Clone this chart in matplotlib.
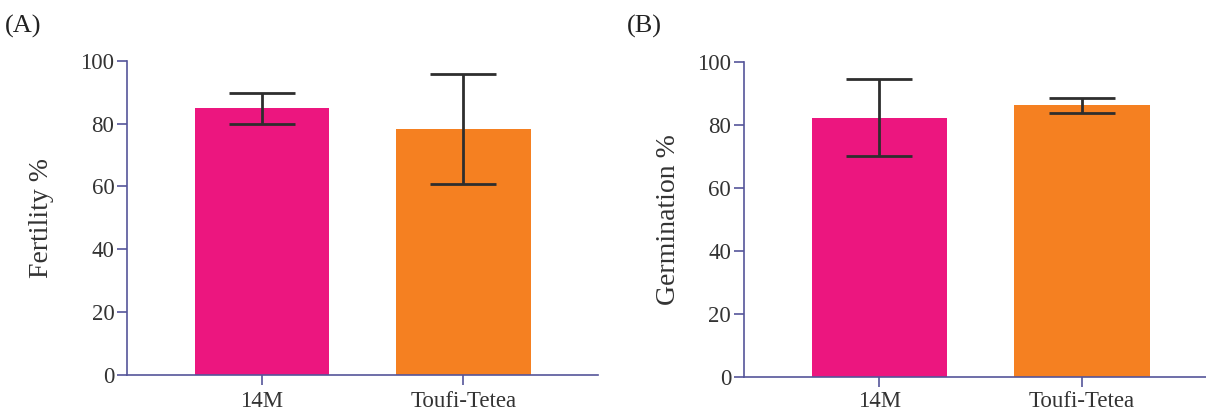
import matplotlib
matplotlib.use("Agg")
import matplotlib.pyplot as plt

plt.rcParams["font.family"] = ["Liberation Serif", "DejaVu Serif"]

categories = ["14M", "Toufi-Tetea"]
fertility = [85.0, 78.2]
fertility_lo = [80.0, 60.7]
fertility_hi = [89.9, 95.9]
germination = [82.3, 86.3]
germination_lo = [70.2, 83.9]
germination_hi = [94.7, 88.7]
yticks = [0, 20, 40, 60, 80, 100]

bar_colors = ["#EC167F", "#F58021"]
axis_color = "#55559a"
err_color = "#2e2e2e"
text_color = "#333333"

fig = plt.figure(figsize=(12.06, 4.12), dpi=100)
ax_a = fig.add_axes([0.1051, 0.0905, 0.3904, 0.7614])
ax_b = fig.add_axes([0.6167, 0.0850, 0.3833, 0.7646])


def draw_panel(ax, vals, lo, hi, ylabel, xlim, labelpad, xpad):
    x = range(len(categories))
    ax.bar(x, vals, width=0.668, color=bar_colors, zorder=2)
    yerr = [[v - l for v, l in zip(vals, lo)], [h - v for v, h in zip(vals, hi)]]
    ax.errorbar(x, vals, yerr=yerr, fmt="none", ecolor=err_color,
                elinewidth=2.0, capsize=24, capthick=2.0, zorder=3,
                clip_on=False)
    ax.set_xlim(*xlim)
    ax.set_ylim(0, 100)
    ax.set_yticks(yticks)
    ax.set_xticks(list(x))
    ax.set_xticklabels(categories)
    for s in ["top", "right"]:
        ax.spines[s].set_visible(False)
    for s in ["left", "bottom"]:
        ax.spines[s].set_color(axis_color)
        ax.spines[s].set_linewidth(1.2)
    ax.tick_params(axis="both", colors=axis_color, length=7, width=1.2,
                   labelsize=16.5, labelcolor=text_color, pad=2)
    ax.tick_params(axis="x", pad=xpad)
    ax.set_ylabel(ylabel, fontsize=20, color=text_color, labelpad=labelpad)


draw_panel(ax_a, fertility, fertility_lo, fertility_hi, "Fertility %",
           (-0.672, 1.667), 19, 4.5)
draw_panel(ax_b, germination, germination_lo, germination_hi,
           "Germination %", (-0.669, 1.612), 12, 3)

fig.text(0.004, 0.936, "(A)", fontsize=19, color="#222222", va="center")
fig.text(0.520, 0.936, "(B)", fontsize=19, color="#222222", va="center")

fig.savefig("out.png", dpi=100)
